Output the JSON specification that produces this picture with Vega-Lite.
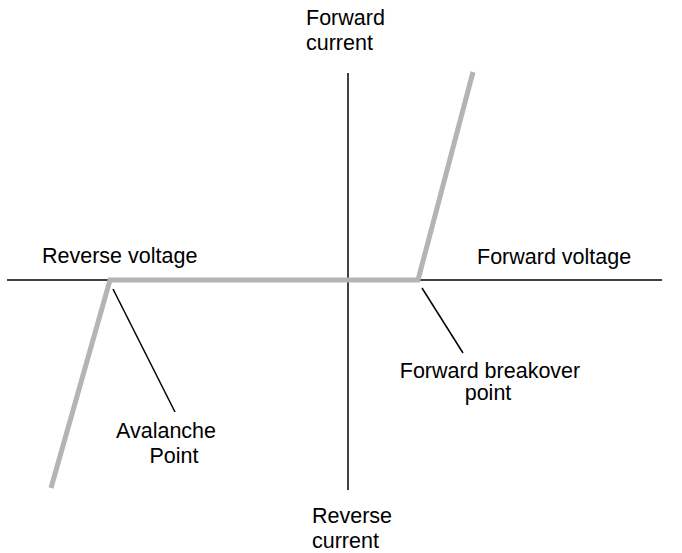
{
  "$schema": "https://vega.github.io/schema/vega-lite/v6.json",
  "width": 682,
  "height": 553,
  "autosize": "none",
  "padding": 0,
  "background": "white",
  "config": {"view": {"stroke": null}},
  "layer": [
    {
      "data": {"values": [
        {"name": "voltage axis", "v1": -341, "v2": 314, "c1": 0, "c2": 0},
        {"name": "current axis", "v1": 0, "v2": 0, "c1": 207, "c2": -210}
      ]},
      "mark": {"type": "rule", "color": "black", "strokeWidth": 1.5},
      "encoding": {
        "x": {"field": "v1", "type": "quantitative", "scale": {"domain": [-348, 334], "nice": false, "zero": false}, "axis": null},
        "x2": {"field": "v2"},
        "y": {"field": "c1", "type": "quantitative", "scale": {"domain": [-273, 280], "nice": false, "zero": false}, "axis": null},
        "y2": {"field": "c2"}
      }
    },
    {
      "data": {"values": [
        {"order": 1, "voltage": -297, "current": -208},
        {"order": 2, "voltage": -238, "current": 0},
        {"order": 3, "voltage": 70, "current": 0},
        {"order": 4, "voltage": 125, "current": 208}
      ]},
      "mark": {"type": "line", "color": "#b4b4b4", "strokeWidth": 5, "strokeJoin": "miter", "strokeCap": "butt"},
      "encoding": {
        "x": {"field": "voltage", "type": "quantitative", "scale": {"domain": [-348, 334], "nice": false, "zero": false}, "axis": null},
        "y": {"field": "current", "type": "quantitative", "scale": {"domain": [-273, 280], "nice": false, "zero": false}, "axis": null},
        "order": {"field": "order"}
      }
    },
    {
      "data": {"values": [
        {"name": "avalanche pointer", "v1": -235, "v2": -173, "c1": -9, "c2": -132},
        {"name": "breakover pointer", "v1": 74, "v2": 115, "c1": -8, "c2": -73}
      ]},
      "mark": {"type": "rule", "color": "black", "strokeWidth": 1.5},
      "encoding": {
        "x": {"field": "v1", "type": "quantitative", "scale": {"domain": [-348, 334], "nice": false, "zero": false}, "axis": null},
        "x2": {"field": "v2"},
        "y": {"field": "c1", "type": "quantitative", "scale": {"domain": [-273, 280], "nice": false, "zero": false}, "axis": null},
        "y2": {"field": "c2"}
      }
    },
    {
      "data": {"values": [
        {"label": "Forward", "voltage": -42, "current": 255},
        {"label": "current", "voltage": -42, "current": 230},
        {"label": "Reverse", "voltage": -36, "current": -243},
        {"label": "current", "voltage": -36, "current": -268},
        {"label": "Reverse voltage", "voltage": -306, "current": 17},
        {"label": "Forward voltage", "voltage": 129, "current": 16}
      ]},
      "mark": {"type": "text", "font": "Liberation Sans", "fontSize": 21.5, "color": "black", "baseline": "alphabetic", "align": "left"},
      "encoding": {
        "x": {"field": "voltage", "type": "quantitative", "scale": {"domain": [-348, 334], "nice": false, "zero": false}, "axis": null},
        "y": {"field": "current", "type": "quantitative", "scale": {"domain": [-273, 280], "nice": false, "zero": false}, "axis": null},
        "text": {"field": "label"}
      }
    },
    {
      "data": {"values": [
        {"label": "Forward breakover", "voltage": 142, "current": -98},
        {"label": "point", "voltage": 140, "current": -120},
        {"label": "Avalanche", "voltage": -182, "current": -158},
        {"label": "Point", "voltage": -174, "current": -183}
      ]},
      "mark": {"type": "text", "font": "Liberation Sans", "fontSize": 21.5, "color": "black", "baseline": "alphabetic", "align": "center"},
      "encoding": {
        "x": {"field": "voltage", "type": "quantitative", "scale": {"domain": [-348, 334], "nice": false, "zero": false}, "axis": null},
        "y": {"field": "current", "type": "quantitative", "scale": {"domain": [-273, 280], "nice": false, "zero": false}, "axis": null},
        "text": {"field": "label"}
      }
    }
  ]
}
